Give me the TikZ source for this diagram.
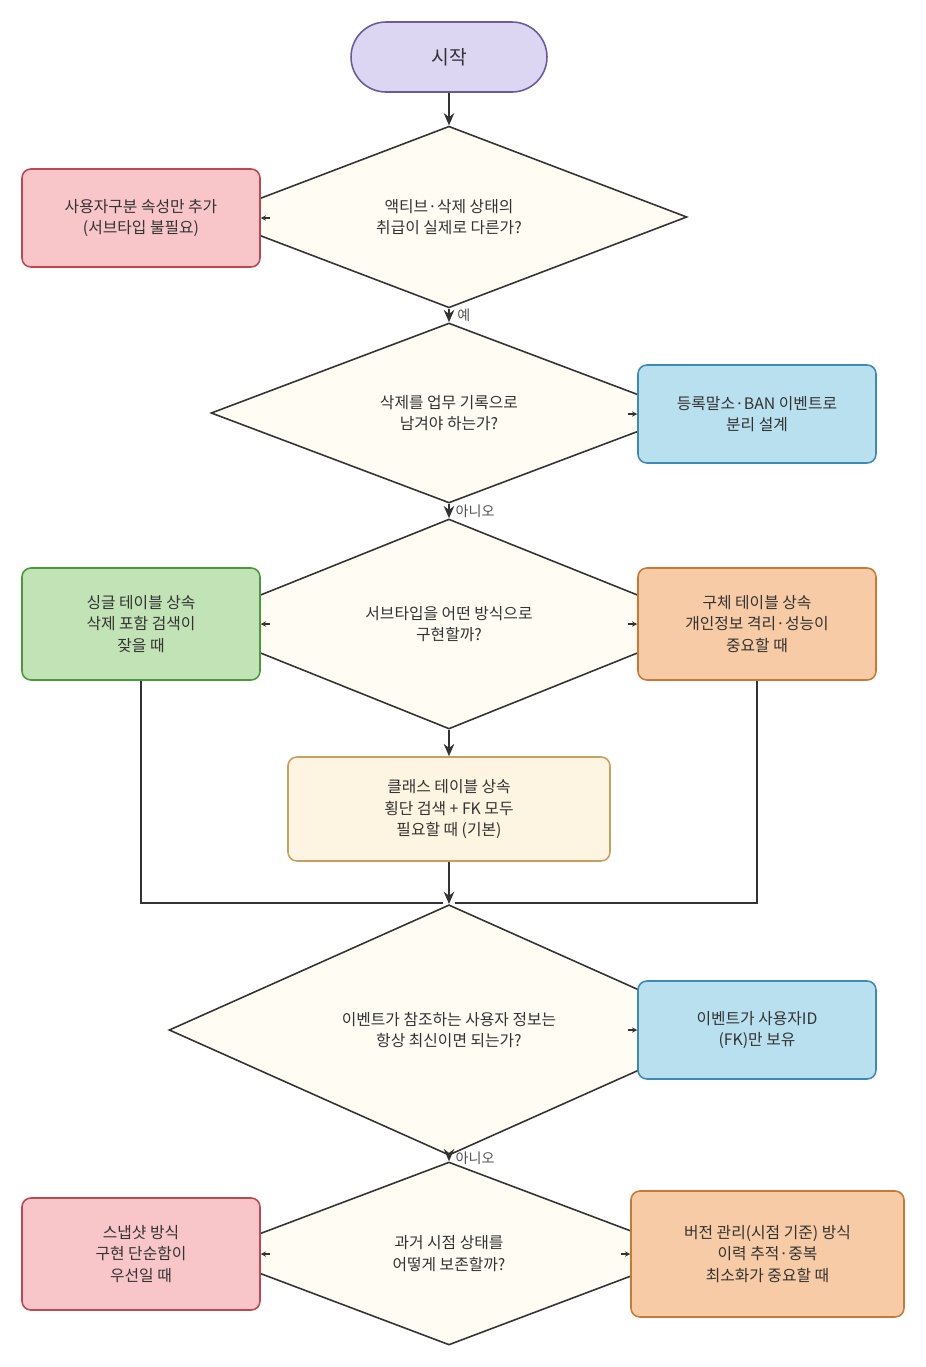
\documentclass[tikz,border=0pt]{standalone}
\usepackage{fontspec}
\setmainfont{Noto Sans CJK KR}
\usetikzlibrary{shapes.geometric,arrows.meta}
\definecolor{ink}{HTML}{333333}
\definecolor{dfill}{HTML}{FEFCF3}
\begin{document}
\begin{tikzpicture}[x=0.02cm,y=-0.02cm,
  txt/.style={font=\fontsize{9}{12.4}\selectfont,text=ink,align=center},
  dia/.style={txt,diamond,draw=ink,fill=dfill,line width=0.9pt,inner sep=0pt},
  box/.style={txt,rectangle,rounded corners=5pt,line width=0.9pt,minimum width=4.76cm,minimum height=1.96cm},
  pink/.style={box,fill=HTML-pink,draw=HTML-pinkd},
  arr/.style={draw=ink,line width=0.9pt,-{Stealth[length=7pt,width=6pt]}},
  tip/.style={draw=ink,line width=0.6pt,-{Stealth[length=3pt,width=3pt]}},
  lab/.style={font=\fontsize{8}{10}\selectfont,text=ink!85}]
\definecolor{pinkf}{HTML}{F8C6C9}\definecolor{pinkd}{HTML}{C0464F}
\definecolor{bluef}{HTML}{B9E0EF}\definecolor{blued}{HTML}{3B8BB5}
\definecolor{greenf}{HTML}{C2E3B5}\definecolor{greend}{HTML}{4A9A3C}
\definecolor{orangef}{HTML}{F6CBA5}\definecolor{oranged}{HTML}{C87A35}
\definecolor{creamf}{HTML}{FDF5E1}\definecolor{creamd}{HTML}{C8A060}
\definecolor{purf}{HTML}{DDD6F3}\definecolor{purd}{HTML}{6B5B9A}
\tikzset{pk/.style={box,fill=pinkf,draw=pinkd},bl/.style={box,fill=bluef,draw=blued},
  gr/.style={box,fill=greenf,draw=greend},or/.style={box,fill=orangef,draw=oranged}}
\fill[white] (0,0) rectangle (926,1367);
\useasboundingbox (0,0) rectangle (926,1367);
\node[txt,draw=purd,fill=purf,line width=0.9pt,rounded corners=0.7cm,minimum width=3.92cm,minimum height=1.4cm] (S) at (449,57) {\fontsize{11}{13}\selectfont 시작};
\node[dia,minimum width=9.52cm,minimum height=3.6cm] (D1) at (449,217) {액티브·삭제 상태의\\취급이 실제로 다른가?};
\node[dia,minimum width=9.52cm,minimum height=3.6cm] (D2) at (449,413) {삭제를 업무 기록으로\\남겨야 하는가?};
\node[dia,minimum width=10.44cm,minimum height=4.2cm] (D3) at (449,624) {서브타입을 어떤 방식으로\\구현할까?};
\node[dia,minimum width=11.2cm,minimum height=3.92cm] (D4) at (449,1030) {이벤트가 참조하는 사용자 정보는\\항상 최신이면 되는가?};
\node[dia,minimum width=9.68cm,minimum height=3.66cm] (D5) at (449,1253.5) {과거 시점 상태를\\어떻게 보존할까?};
\node[pk] (L1) at (141,218) {사용자구분 속성만 추가\\(서브타입 불필요)};
\node[bl] (R2) at (757,414) {등록말소·BAN 이벤트로\\분리 설계};
\node[gr,minimum height=2.24cm] (L3) at (141,624) {싱글 테이블 상속\\삭제 포함 검색이\\잦을 때};
\node[or,minimum height=2.24cm] (R3) at (757,624) {구체 테이블 상속\\개인정보 격리·성능이\\중요할 때};
\node[box,fill=creamf,draw=creamd,minimum width=6.44cm,minimum height=2.08cm] (C) at (449,809) {클래스 테이블 상속\\횡단 검색 + FK 모두\\필요할 때 (기본)};
\node[bl] (R4) at (757,1030) {이벤트가 사용자ID\\(FK)만 보유};
\node[pk,minimum height=2.24cm] (L5) at (141,1254) {스냅샷 방식\\구현 단순함이\\우선일 때};
\node[or,minimum width=5.46cm,minimum height=2.52cm] (R5) at (767.5,1254) {버전 관리(시점 기준) 방식\\이력 추적·중복\\최소화가 중요할 때};
\coordinate (M) at (449,903);
\coordinate (ML) at (443,903);
\coordinate (MR) at (455,903);
\draw[arr] (S) -- (D1.north);
\draw[arr] (D1.south) -- (D2.north) node[lab,pos=0.5,right=1pt] {예};
\draw[arr] (D2.south) -- (D3.north) node[lab,pos=0.5,right=0pt] {아니오};
\draw[arr] (D3.south) -- (C.north);
\draw[arr] (C.south) -- (D4.north);
\draw[arr] (D4.south) -- (D5.north) node[lab,pos=0.5,right=0pt] {아니오};
\draw[draw=ink,line width=0.9pt] (L3.south) |- (ML);
\draw[draw=ink,line width=0.9pt] (R3.south) |- (MR);
\draw[tip] ([xshift=5]L1.east) -- (L1.east);
\draw[tip] ([xshift=-5]R2.west) -- (R2.west);
\draw[tip] ([xshift=5]L3.east) -- (L3.east);
\draw[tip] ([xshift=-5]R3.west) -- (R3.west);
\draw[tip] ([xshift=-5]R4.west) -- (R4.west);
\draw[tip] ([xshift=5]L5.east) -- (L5.east);
\draw[tip] ([xshift=-5]R5.west) -- (R5.west);
\end{tikzpicture}
\end{document}
